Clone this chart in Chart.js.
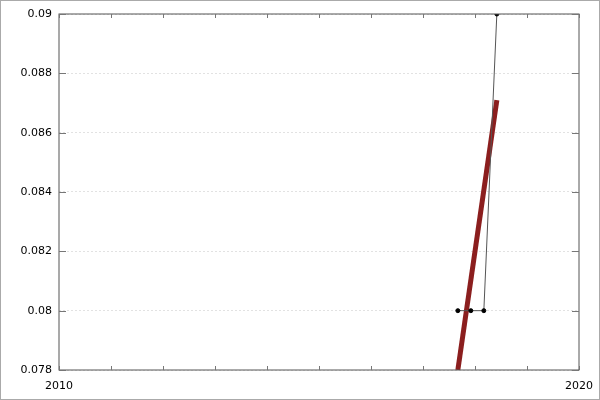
<!DOCTYPE html>
<html>
<head>
<meta charset="utf-8">
<script src="https://cdn.jsdelivr.net/npm/chart.js@4"></script>
<style>
  html, body { margin: 0; padding: 0; background: #fff; }
  #wrap { width: 600px; height: 400px; }
</style>
</head>
<body>
<div id="wrap"><canvas id="chart" width="600" height="400"></canvas></div>
<script>
// Data
const years = [2017.67, 2017.92, 2018.17, 2018.42];
const values = [0.08, 0.08, 0.08, 0.09];
const trendYears = [2017.67, 2018.42];
const trendValues = [0.078, 0.0871];
const xLabels = [2010, 2020];
const yTicks = [0.078, 0.08, 0.082, 0.084, 0.086, 0.088, 0.09];

const toPoints = (xs, ys) => xs.map((x, i) => ({ x: x, y: ys[i] }));

// Box round the plot, inward ticks and the grey frame of the picture
const framePlugin = {
    id: 'frame',
    afterDraw(chart) {
        const ctx = chart.ctx;
        const a = chart.chartArea;
        const xs = chart.scales.x;
        const ys = chart.scales.y;
        ctx.save();
        ctx.strokeStyle = '#555';
        ctx.lineWidth = 1;
        ctx.strokeRect(a.left, a.top, a.right - a.left, a.bottom - a.top);

        ctx.strokeStyle = '#777';
        ctx.beginPath();
        for (let yr = 2010; yr <= 2020; yr++) {
            const px = Math.round(xs.getPixelForValue(yr)) + 0.5;
            ctx.moveTo(px, a.bottom);
            ctx.lineTo(px, a.bottom - 4);
            ctx.moveTo(px, a.top);
            ctx.lineTo(px, a.top + 4);
        }
        yTicks.forEach(v => {
            const py = Math.round(ys.getPixelForValue(v)) + 0.5;
            ctx.moveTo(a.left, py);
            ctx.lineTo(a.left + 7, py);
            ctx.moveTo(a.right, py);
            ctx.lineTo(a.right - 7, py);
        });
        ctx.stroke();

        ctx.strokeStyle = '#aaa';
        ctx.strokeRect(0.5, 0.5, chart.width - 1, chart.height - 1);
        ctx.restore();
    }
};

new Chart(document.getElementById('chart').getContext('2d'), {
    type: 'scatter',
    data: {
        datasets: [
            {
                label: 'trend',
                data: toPoints(trendYears, trendValues),
                showLine: true,
                borderColor: '#8b1e1e',
                borderWidth: 5,
                pointRadius: 0,
                order: 2
            },
            {
                label: 'values',
                data: toPoints(years, values),
                showLine: true,
                borderColor: '#555',
                borderWidth: 1,
                pointRadius: 2,
                pointBackgroundColor: '#000',
                pointBorderColor: '#000',
                order: 1
            }
        ]
    },
    plugins: [framePlugin],
    options: {
        responsive: false,
        animation: false,
        layout: { padding: { top: 14, right: 21, left: 0, bottom: 0 } },
        plugins: {
            legend: { display: false },
            tooltip: { enabled: false }
        },
        scales: {
            x: {
                type: 'linear',
                min: 2010,
                max: 2020,
                afterFit(scale) { scale.height = 30; },
                afterBuildTicks(scale) {
                    scale.ticks = xLabels.map(v => ({ value: v }));
                },
                ticks: {
                    color: '#000',
                    font: { family: 'DejaVu Sans', size: 11 },
                    maxRotation: 0,
                    padding: 2,
                    callback: v => String(v)
                },
                grid: { display: false },
                border: { display: false }
            },
            y: {
                min: 0.078,
                max: 0.09,
                afterFit(scale) { scale.width = 59; },
                afterBuildTicks(scale) {
                    scale.ticks = yTicks.map(v => ({ value: v }));
                },
                ticks: {
                    color: '#000',
                    font: { family: 'DejaVu Sans', size: 11 },
                    padding: 7,
                    callback: v => String(+v.toFixed(3))
                },
                grid: {
                    color: '#e2e2e2',
                    drawTicks: false
                },
                border: { display: false, dash: [2, 2] }
            }
        }
    }
});
</script>
</body>
</html>
